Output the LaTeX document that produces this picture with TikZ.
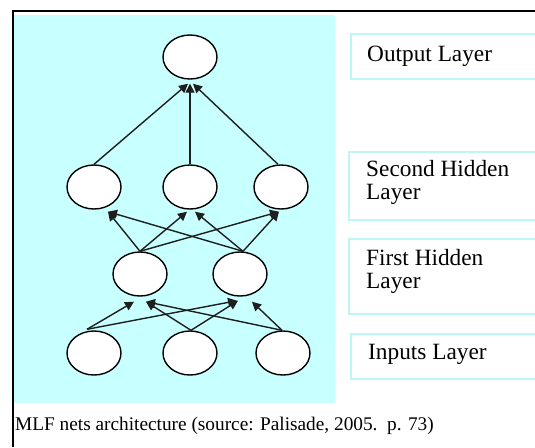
\documentclass[tikz,border=0pt]{standalone}
\usepackage{fontspec}
\setmainfont{Liberation Serif}
\newfontfamily\timesfont{Liberation Serif}
\usetikzlibrary{shapes.geometric,arrows.meta}
\definecolor{bgcyan}{RGB}{200,255,255}
\definecolor{boxcyan}{RGB}{190,245,245}
\definecolor{edgegray}{RGB}{30,30,30}
\tikzset{
  neuron/.style={ellipse,draw=black,line width=1.4pt,fill=white,inner sep=0pt,minimum width=54pt,minimum height=44pt},
  conn/.style={draw=edgegray,line width=1.4pt,-{Triangle[length=9pt,width=9pt]}},
  labelbox/.style={draw=boxcyan,line width=1.2pt},
  labeltext/.style={anchor=base west,inner sep=0pt,align=left,font=\timesfont\fontsize{23.3}{23.3}\selectfont},
  captiontext/.style={anchor=base west,inner sep=0pt,font=\timesfont\fontsize{19.3}{19.3}\selectfont}
}
\begin{document}
\begin{tikzpicture}[x=1pt,y=-1pt]
\useasboundingbox (0,0) rectangle (535,447);
% frame
\fill[white] (0,0) rectangle (535,447);
\fill[bgcyan] (14,15) rectangle (335,403);
\draw[black,line width=2.5pt] (13,447) -- (13,11) -- (536,11);
% label boxes
\draw[labelbox] (540,34) -| (351,79) -- (540,79);
\draw[labelbox] (540,152) -| (349,220) -- (540,220);
\draw[labelbox] (540,239) -| (349,314) -- (540,314);
\draw[labelbox] (540,334) -| (351,379) -- (540,379);
\node[labeltext] (tout) at (367,61) {Output Layer};
\node[labeltext] (tsec) at (366,176) {Second Hidden};
\node[labeltext] (tsecb) at (366,199) {Layer};
\node[labeltext] (tfir) at (366,265) {First Hidden};
\node[labeltext] (tfirb) at (366,288) {Layer};
\node[labeltext] (tin) at (368,359) {Inputs Layer};
\node[captiontext] (cap) at (15,430) {MLF nets architecture (source: Palisade, 2005.\ \ p. 73)};
% neurons
\node[neuron] (o) at (190,57) {};
\node[neuron] (s1) at (94,187) {};
\node[neuron] (s2) at (190,187) {};
\node[neuron] (s3) at (281,187) {};
\node[neuron] (f1) at (140,274) {};
\node[neuron] (f2) at (240,274) {};
\node[neuron] (i1) at (94,353) {};
\node[neuron] (i2) at (190,353) {};
\node[neuron] (i3) at (283,353) {};
% second hidden -> output
\draw[conn] (s1.north) -- ([xshift=-2pt,yshift=-4pt]o.south);
\draw[conn] (s2.north) -- ([yshift=-4pt]o.south);
\draw[conn] ([xshift=-3pt]s3.north) -- ([xshift=3pt,yshift=-4pt]o.south);
% first hidden -> second hidden
\draw[conn] (f1.north) -- ([xshift=14pt,yshift=-2pt]s1.south);
\draw[conn] (f1.north) -- ([xshift=-3pt,yshift=-2pt]s2.south);
\draw[conn] (f1.north) -- ([xshift=-2pt,yshift=-2pt]s3.south);
\draw[conn] ([xshift=3pt]f2.north) -- ([xshift=14pt,yshift=-2pt]s1.south);
\draw[conn] ([xshift=3pt]f2.north) -- ([xshift=5pt,yshift=-2pt]s2.south);
\draw[conn] ([xshift=3pt]f2.north) -- ([xshift=-2pt,yshift=-2pt]s3.south);
% inputs -> first hidden
\draw[conn] ([xshift=-7pt,yshift=1pt]i1.north) -- ([xshift=-6pt,yshift=-5pt]f1.south);
\draw[conn] ([xshift=-7pt,yshift=1pt]i1.north) -- ([xshift=-3pt,yshift=-4pt]f2.south);
\draw[conn] ([xshift=1pt]i2.north) -- ([xshift=6pt,yshift=-5pt]f1.south);
\draw[conn] ([xshift=1pt]i2.north) -- ([xshift=-2pt,yshift=-4pt]f2.south);
\draw[conn] ([xshift=-1pt]i3.north) -- ([xshift=6pt,yshift=-5pt]f1.south);
\draw[conn] ([xshift=-1pt]i3.north) -- ([xshift=12pt,yshift=-5pt]f2.south);
\end{tikzpicture}
\end{document}
